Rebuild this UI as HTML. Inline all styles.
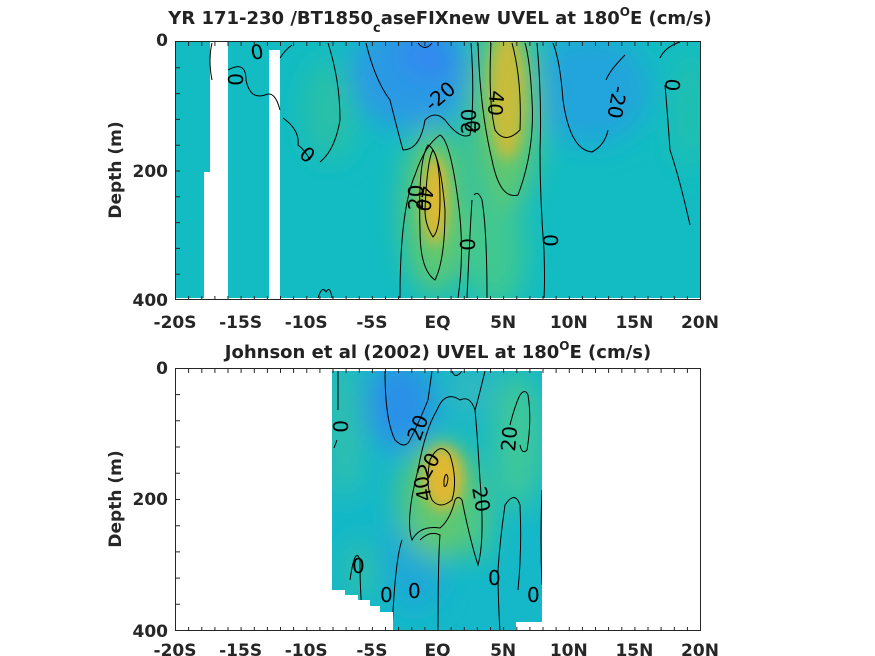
<!DOCTYPE html>
<html><head><meta charset="utf-8"><style>
body{margin:0;background:#fff;}
svg{display:block;font-family:"DejaVu Sans","Liberation Sans",sans-serif;}
.t{font-weight:bold;font-size:18px;fill:#222;}
.tl{font-weight:bold;font-size:17px;fill:#262626;}
.cl{fill:none;stroke:#000;stroke-width:1;}
.lb{font-size:20px;fill:#000;}
</style></head><body>
<svg width="875" height="656" viewBox="0 0 875 656" xmlns="http://www.w3.org/2000/svg">
<defs>
<filter id="b1" x="-50%" y="-50%" width="200%" height="200%"><feGaussianBlur stdDeviation="14"/></filter>
<filter id="b2" x="-50%" y="-50%" width="200%" height="200%"><feGaussianBlur stdDeviation="7"/></filter>
<clipPath id="c1"><rect x="175" y="42" width="525" height="256"/></clipPath>
<clipPath id="c2"><path d="M332 371 H542 V622 H516 V630 H393 V612 H380 V606 H370 V600 H358 V595 H345 V590 H332 Z"/></clipPath>
</defs>

<g clip-path="url(#c1)">
<rect x="175" y="42" width="525" height="256" fill="#12bcc2"/>
<g filter="url(#b1)">
<ellipse cx="330" cy="110" rx="25" ry="50" fill="#2cc0a6"/>
<ellipse cx="410" cy="75" rx="60" ry="55" fill="#2a9ae4"/>
<ellipse cx="430" cy="55" rx="30" ry="25" fill="#3088f0"/>
<ellipse cx="590" cy="90" rx="60" ry="55" fill="#22a4dc"/>
<ellipse cx="690" cy="110" rx="18" ry="60" fill="#24c0ae"/>
<ellipse cx="495" cy="250" rx="30" ry="60" fill="#40c890"/>
<ellipse cx="505" cy="110" rx="35" ry="100" fill="#60c870"/>
<ellipse cx="435" cy="210" rx="32" ry="85" fill="#60c870"/>
</g>
<g filter="url(#b2)">
<ellipse cx="507" cy="95" rx="18" ry="65" fill="#c8bc3a"/>
<ellipse cx="435" cy="200" rx="13" ry="45" fill="#e0b832"/>
</g>
<rect x="204" y="172" width="24" height="130" fill="#fff"/>
<rect x="210" y="38" width="18" height="140" fill="#fff"/>
<rect x="269" y="50" width="11" height="252" fill="#fff"/>
<path class="cl" d="M212 43 Q208 60 212 80"/>
<path class="cl" d="M228 70 Q246 60 246 80 Q250 100 265 95 Q275 90 280 110"/>
<path class="cl" d="M280 58 Q285 50 292 45"/>
<path class="cl" d="M283 118 Q300 130 298 145 Q305 150 310 160 M320 162 Q335 150 340 120 Q340 80 328 43"/>
<path class="cl" d="M366 43 Q375 80 390 100 Q400 140 403 150 Q420 150 425 120 Q435 110 445 120 Q460 140 470 135 Q475 100 471 43"/>
<path class="cl" d="M418 43 Q425 52 432 43"/>
<path class="cl" d="M400 298 Q400 210 415 175 Q425 145 440 135 Q450 140 458 200 Q465 250 458 298"/>
<path class="cl" d="M420 230 Q418 160 428 145 Q440 150 445 210 Q445 260 435 280 Q420 270 420 230Z"/>
<path class="cl" d="M425 210 Q427 160 433 150 Q440 160 440 200 Q440 230 433 237 Q425 225 425 210Z"/>
<path class="cl" d="M472 200 Q470 230 467 298 M487 298 Q487 230 482 200 Q478 190 474 195"/>
<path class="cl" d="M478 43 Q480 110 492 160 Q500 200 518 195 Q535 150 532 100 Q530 60 525 43"/>
<path class="cl" d="M491 43 Q488 100 495 130 Q505 145 520 130 Q522 80 512 43"/>
<path class="cl" d="M537 43 Q542 100 540 150 Q540 200 544 250 Q545 280 544 298"/>
<path class="cl" d="M553 43 Q560 60 563 100 Q570 150 592 152 Q605 145 608 130 M606 80 Q610 70 625 55"/>
<path class="cl" d="M660 58 Q665 47 680 42 M665 85 Q668 120 670 150 Q680 180 690 225"/>
<path class="cl" d="M318 298 Q322 285 326 292 Q330 285 332 298"/>
</g>
<g class="lb">
<text transform="translate(252,60) rotate(-10)">0</text>
<text transform="translate(228,73) rotate(90)">0</text>
<text transform="translate(298,156) rotate(40)">0</text>
<text transform="translate(432,112) rotate(-40)">-20</text>
<text transform="translate(465,120) rotate(90)">0</text>
<text transform="translate(476,134) rotate(-90)">20</text>
<text transform="translate(490,90) rotate(95)">40</text>
<text transform="translate(420,185) rotate(100)">40</text>
<text transform="translate(423,210) rotate(-90)">20</text>
<text transform="translate(460,238) rotate(90)">0</text>
<text transform="translate(543,234) rotate(90)">0</text>
<text transform="translate(613,85) rotate(100)">-20</text>
<text transform="translate(666,78) rotate(95)">0</text>
</g>

<g clip-path="url(#c2)">
<rect x="330" y="368" width="215" height="265" fill="#14b8c8"/>
<g filter="url(#b1)">
<ellipse cx="345" cy="430" rx="20" ry="70" fill="#2ebfae"/>
<ellipse cx="400" cy="405" rx="35" ry="45" fill="#2a90e8"/>
<ellipse cx="415" cy="560" rx="30" ry="50" fill="#1aa8d8"/>
<ellipse cx="470" cy="390" rx="25" ry="25" fill="#30b8c0"/>
<ellipse cx="518" cy="440" rx="25" ry="70" fill="#40c898"/>
<ellipse cx="440" cy="500" rx="40" ry="60" fill="#60c870"/>
<ellipse cx="478" cy="520" rx="14" ry="40" fill="#48c888"/>
<ellipse cx="360" cy="570" rx="15" ry="30" fill="#30c0a8"/>
</g>
<g filter="url(#b2)">
<ellipse cx="443" cy="478" rx="20" ry="32" fill="#e0b832"/>
</g>
<path class="cl" d="M338 371 V410 M337 440 L334 448"/>
<path class="cl" d="M385 371 Q385 420 395 440 Q405 450 410 440 Q420 420 428 400 Q432 371 432 371"/>
<path class="cl" d="M452 371 Q455 380 462 371"/>
<path class="cl" d="M485 371 Q478 400 475 410 Q470 395 460 400 Q445 390 437 410 Q425 430 418 470 Q405 520 412 540 Q420 525 440 528 Q450 520 455 500 Q458 495 462 500 Q470 540 478 565 Q485 540 480 480 Q477 430 475 410"/>
<path class="cl" d="M430 460 Q440 440 450 455 Q458 480 452 500 Q440 510 432 500 Q425 485 430 460Z"/>
<path class="cl" d="M444 480 Q446 470 448 478 Q447 488 444 486Z"/>
<path class="cl" d="M402 540 Q395 560 392 632 M420 540 Q430 530 440 535 Q438 560 438 632"/>
<path class="cl" d="M350 580 Q355 545 360 560 Q360 590 362 610"/>
<path class="cl" d="M500 632 Q498 600 498 570 Q500 540 505 505 Q515 490 520 505 Q522 550 518 590"/>
<path class="cl" d="M510 425 Q515 405 520 395 Q525 388 528 395 Q532 420 527 450 Q522 455 520 445"/>
<path class="cl" d="M542 490 Q540 540 542 585"/>
</g>
<g class="lb">
<text transform="translate(333,420) rotate(90)">0</text>
<text transform="translate(420,442) rotate(-70)">20</text>
<text transform="translate(428,480) rotate(-60)">20</text>
<text transform="translate(432,500) rotate(-100)">40</text>
<text transform="translate(472,488) rotate(80)">20</text>
<text transform="translate(515,452) rotate(-85)">20</text>
<text transform="translate(352,573)">0</text>
<text transform="translate(380,602)">0</text>
<text transform="translate(408,598)">0</text>
<text transform="translate(488,585)">0</text>
<text transform="translate(527,602)">0</text>
</g>

<g fill="none" stroke="#262626" stroke-width="1">
<rect x="175.5" y="41.5" width="525" height="258"/>
<rect x="175.5" y="368.5" width="525" height="262"/>
</g>
<g stroke="#262626" stroke-width="1">
<path d="M188.6 300V296M201.8 300V296M214.9 300V296M228 300V296M241.1 300V296M254.3 300V296M267.4 300V296M280.5 300V296M293.6 300V296M306.8 300V296M319.9 300V296M333 300V296M346.1 300V296M359.3 300V296M372.4 300V296M385.5 300V296M398.6 300V296M411.8 300V296M424.9 300V296M438 300V296M451.1 300V296M464.3 300V296M477.4 300V296M490.5 300V296M503.6 300V296M516.8 300V296M529.9 300V296M543 300V296M556.1 300V296M569.3 300V296M582.4 300V296M595.5 300V296M608.6 300V296M621.8 300V296M634.9 300V296M648 300V296M661.1 300V296M674.3 300V296M687.4 300V296"/>
<path d="M188.6 42V46M201.8 42V46M214.9 42V46M228 42V46M241.1 42V46M254.3 42V46M267.4 42V46M280.5 42V46M293.6 42V46M306.8 42V46M319.9 42V46M333 42V46M346.1 42V46M359.3 42V46M372.4 42V46M385.5 42V46M398.6 42V46M411.8 42V46M424.9 42V46M438 42V46M451.1 42V46M464.3 42V46M477.4 42V46M490.5 42V46M503.6 42V46M516.8 42V46M529.9 42V46M543 42V46M556.1 42V46M569.3 42V46M582.4 42V46M595.5 42V46M608.6 42V46M621.8 42V46M634.9 42V46M648 42V46M661.1 42V46M674.3 42V46M687.4 42V46"/>
<path d="M188.6 631V627M201.8 631V627M214.9 631V627M228 631V627M241.1 631V627M254.3 631V627M267.4 631V627M280.5 631V627M293.6 631V627M306.8 631V627M319.9 631V627M333 631V627M346.1 631V627M359.3 631V627M372.4 631V627M385.5 631V627M398.6 631V627M411.8 631V627M424.9 631V627M438 631V627M451.1 631V627M464.3 631V627M477.4 631V627M490.5 631V627M503.6 631V627M516.8 631V627M529.9 631V627M543 631V627M556.1 631V627M569.3 631V627M582.4 631V627M595.5 631V627M608.6 631V627M621.8 631V627M634.9 631V627M648 631V627M661.1 631V627M674.3 631V627M687.4 631V627"/>
<path d="M188.6 369V373M201.8 369V373M214.9 369V373M228 369V373M241.1 369V373M254.3 369V373M267.4 369V373M280.5 369V373M293.6 369V373M306.8 369V373M319.9 369V373M333 369V373M346.1 369V373M359.3 369V373M372.4 369V373M385.5 369V373M398.6 369V373M411.8 369V373M424.9 369V373M438 369V373M451.1 369V373M464.3 369V373M477.4 369V373M490.5 369V373M503.6 369V373M516.8 369V373M529.9 369V373M543 369V373M556.1 369V373M569.3 369V373M582.4 369V373M595.5 369V373M608.6 369V373M621.8 369V373M634.9 369V373M648 369V373M661.1 369V373M674.3 369V373M687.4 369V373"/>
<path d="M176 67.8H180M176 93.6H180M176 119.4H180M176 145.2H180M176 171H180M176 196.8H180M176 222.6H180M176 248.4H180M176 274.2H180"/>
<path d="M176 394.6H180M176 420.8H180M176 447H180M176 473.2H180M176 499.5H180M176 525.7H180M176 551.9H180M176 578.1H180M176 604.3H180"/>
</g>

<g class="tl" text-anchor="middle">
<text x="175" y="328">-20S</text><text x="240.6" y="328">-15S</text><text x="306.2" y="328">-10S</text><text x="371.9" y="328">-5S</text><text x="437.5" y="328">EQ</text><text x="503.1" y="328">5N</text><text x="568.8" y="328">10N</text><text x="634.4" y="328">15N</text><text x="700" y="328">20N</text>
<text x="175" y="656">-20S</text><text x="240.6" y="656">-15S</text><text x="306.2" y="656">-10S</text><text x="371.9" y="656">-5S</text><text x="437.5" y="656">EQ</text><text x="503.1" y="656">5N</text><text x="568.8" y="656">10N</text><text x="634.4" y="656">15N</text><text x="700" y="656">20N</text>
</g>
<g class="tl" text-anchor="end">
<text x="168" y="46">0</text><text x="168" y="177">200</text><text x="168" y="306">400</text>
<text x="168" y="374">0</text><text x="168" y="505">200</text><text x="168" y="637">400</text>
</g>
<text class="tl" transform="translate(121,170) rotate(-90)" text-anchor="middle">Depth (m)</text>
<text class="tl" transform="translate(121,499) rotate(-90)" text-anchor="middle">Depth (m)</text>
<text class="t" x="440" y="24" text-anchor="middle">YR 171-230 /BT1850<tspan font-size="13" dy="8">c</tspan><tspan dy="-8">aseFIXnew UVEL at 180</tspan><tspan font-size="12" dy="-8">O</tspan><tspan dy="8">E (cm/s)</tspan></text>
<text class="t" x="438" y="358" text-anchor="middle">Johnson et al (2002) UVEL at 180<tspan font-size="12" dy="-8">O</tspan><tspan dy="8">E (cm/s)</tspan></text>
</svg>
</body></html>
